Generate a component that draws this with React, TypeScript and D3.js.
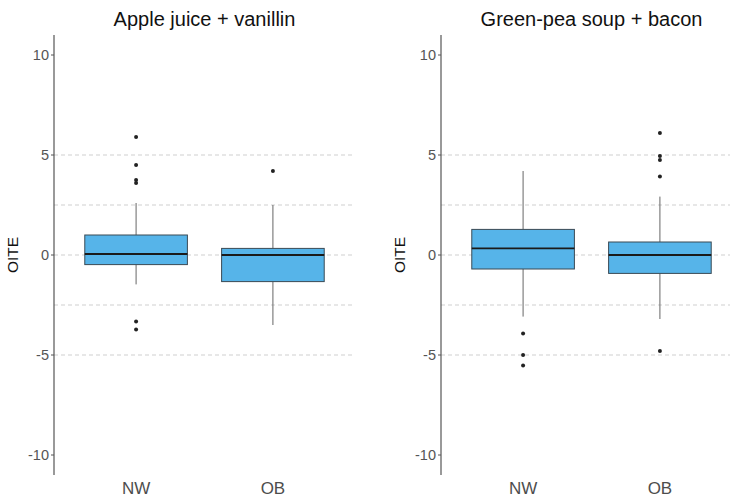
import React from "react";
import * as d3 from "d3";

const panelTitles = ["Apple juice + vanillin", "Green-pea soup + bacon"];
const groups = ["NW", "OB"];
const yTicks = [-10, -5, 0, 5, 10];
const gridValues = [-5, -2.5, 0, 2.5, 5];

// [lower whisker, Q1, median, Q3, upper whisker]
const appleBoxes = [
  [-1.47, -0.48, 0.05, 1.0, 2.6],
  [-3.5, -1.33, 0.0, 0.33, 2.5],
];
const appleOutliers = [
  [5.9, 4.5, 3.75, 3.6, -3.33, -3.72],
  [4.2],
];
const peaBoxes = [
  [-3.08, -0.7, 0.33, 1.28, 4.2],
  [-3.2, -0.92, 0.0, 0.65, 2.92],
];
const peaOutliers = [
  [-3.92, -5.0, -5.53],
  [6.1, 4.95, 4.75, 3.92, -4.8],
];

const panelBoxes = [appleBoxes, peaBoxes];
const panelOutliers = [appleOutliers, peaOutliers];

const W = 730;
const H = 500;
const FONT = "'Liberation Sans', Arial, sans-serif";
const panelLeft = [54, 441];
const panelWidth = 301;
const plotTop = 35;
const plotBottom = 475;

const y = d3.scaleLinear().domain([-11, 11]).range([plotBottom, plotTop]);

function Panel({ idx }: { idx: number }) {
  const x0 = panelLeft[idx];
  const x1 = x0 + panelWidth;
  const x = d3.scalePoint<string>().domain(groups).range([x0, x1]).padding(0.6);
  const bw = x.step() * 0.75;
  const boxes = panelBoxes[idx];
  const outs = panelOutliers[idx];
  return (
    <g>
      {gridValues.map((v) => (
        <line
          key={"g" + v}
          x1={x0}
          x2={x1}
          y1={y(v)}
          y2={y(v)}
          stroke="#cfcfcf"
          strokeWidth={1}
          strokeDasharray="4,3"
        />
      ))}
      {groups.map((g, i) => {
        const cx = x(g) as number;
        const [lo, q1, med, q3, hi] = boxes[i];
        return (
          <g key={g}>
            <line x1={cx} x2={cx} y1={y(hi)} y2={y(q3)} stroke="#666" strokeWidth={1} />
            <line x1={cx} x2={cx} y1={y(q1)} y2={y(lo)} stroke="#666" strokeWidth={1} />
            <rect
              x={cx - bw / 2}
              y={y(q3)}
              width={bw}
              height={y(q1) - y(q3)}
              fill="#56B4E9"
              stroke="#3a4a55"
              strokeWidth={1}
            />
            <line
              x1={cx - bw / 2}
              x2={cx + bw / 2}
              y1={y(med)}
              y2={y(med)}
              stroke="#1a1a1a"
              strokeWidth={1.8}
            />
            {outs[i].map((o, k) => (
              <circle key={k} cx={cx} cy={y(o)} r={2} fill="#222" />
            ))}
            <text
              x={cx}
              y={494}
              textAnchor="middle"
              fontFamily={FONT}
              fontSize={17}
              fill="#4d4d4d"
            >
              {g}
            </text>
          </g>
        );
      })}
      <line x1={x0} x2={x0} y1={plotTop} y2={plotBottom} stroke="#555" strokeWidth={1.2} />
      {yTicks.map((t) => (
        <g key={"t" + t}>
          <line x1={x0 - 3} x2={x0} y1={y(t)} y2={y(t)} stroke="#555" strokeWidth={1} />
          <text
            x={x0 - 5}
            y={y(t)}
            dy="0.36em"
            textAnchor="end"
            fontFamily={FONT}
            fontSize={14.5}
            fill="#555"
          >
            {t}
          </text>
        </g>
      ))}
      <text
        transform={`translate(${x0 - 36},${y(0)}) rotate(-90)`}
        textAnchor="middle"
        fontFamily={FONT}
        fontSize={15.5}
        fill="#111"
      >
        OITE
      </text>
      <text
        x={(x0 + x1) / 2}
        y={26}
        textAnchor="middle"
        fontFamily={FONT}
        fontSize={20}
        fill="#111"
      >
        {panelTitles[idx]}
      </text>
    </g>
  );
}

export default function App() {
  return (
    <div style={{ position: "fixed", left: 0, top: 0, width: W, height: H, background: "#fff" }}>
      <svg width={W} height={H} viewBox={`0 0 ${W} ${H}`} style={{ display: "block" }}>
        <rect width={W} height={H} fill="#fff" />
        <Panel idx={0} />
        <Panel idx={1} />
      </svg>
    </div>
  );
}
